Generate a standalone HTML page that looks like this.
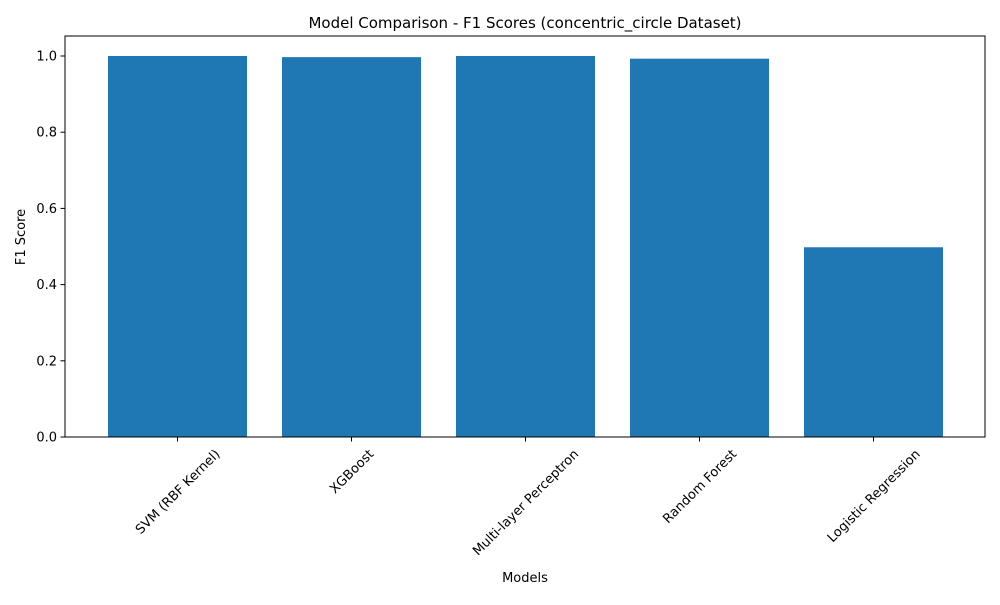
<!DOCTYPE html>
<html><head><meta charset="utf-8"><style>
body{margin:0;background:#fff;font-family:"Liberation Sans","DejaVu Sans",sans-serif}
svg text{font-family:"DejaVu Sans","Liberation Sans",sans-serif;fill:#000}
</style></head><body>
<svg id="chart" width="1000" height="600" viewBox="0 0 1000 600">
<text x="525" y="28" font-size="15" text-anchor="middle">Model Comparison - F1 Scores (concentric_circle Dataset)</text>
<g id="bars"></g><g id="yticks"></g><g id="xticks"></g>
<rect x="65" y="36" width="920" height="401" fill="none" stroke="#000" stroke-width="1"/>
<text x="525" y="582" font-size="13" text-anchor="middle">Models</text>
<text transform="translate(25,237) rotate(-90)" font-size="13" text-anchor="middle">F1 Score</text>
</svg>
<script>
const categories=["SVM (RBF Kernel)","XGBoost","Multi-layer Perceptron","Random Forest","Logistic Regression"];
const values=[1.0,0.997,1.0,0.993,0.498];
const yTicks=[0,0.2,0.4,0.6,0.8,1.0];
const yTickLabels=["0.0","0.2","0.4","0.6","0.8","1.0"];
const NS="http://www.w3.org/2000/svg";
const y=v=>437-v*381;
const x=i=>177.5+i*174;
const bw=139;
function mk(t,a,p){const e=document.createElementNS(NS,t);for(const k in a)e.setAttribute(k,a[k]);p.appendChild(e);return e;}
const bars=document.getElementById('bars'),yt=document.getElementById('yticks'),xt=document.getElementById('xticks');
values.forEach((v,i)=>{
 const r=mk('rect',{x:x(i)-bw/2,y:y(v),width:bw,height:y(0)-y(v),fill:'#1f77b4'},bars);
 
 
 const l=mk('line',{x1:x(i),x2:x(i),y1:437,y2:441.5,stroke:'#000'},xt);
 
 
 const t=mk('text',{x:0,y:4.5,'font-size':13,'text-anchor':'middle'},xt);
 t.textContent=categories[i];
 
 
 const L=t.getComputedTextLength();
 const cy=447+(L+13)*0.7071/2;
 t.setAttribute('transform',`translate(${x(i)},${cy}) rotate(-45)`);
});
yTicks.forEach((v,i)=>{
 const l=mk('line',{x1:60.5,x2:65,y1:y(v),y2:y(v),stroke:'#000'},yt);
 
 
 const t=mk('text',{x:57,y:y(v)+4.5,'font-size':13,'text-anchor':'end'},yt);
 t.textContent=yTickLabels[i];
 
 
});
</script>
</body></html>
